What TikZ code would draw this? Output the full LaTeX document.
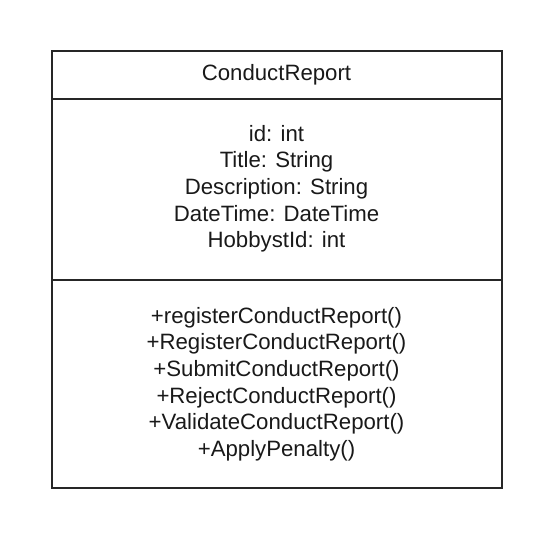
\documentclass[tikz,border=0pt]{standalone}
\usepackage{fontspec}
\setmainfont{Liberation Sans}
\tikzset{
  umlline/.style={draw=black!85, line width=2pt},
  umltext/.style={anchor=base, inner sep=0pt, text=black!90,
    font=\fontsize{22.2}{26.7}\selectfont},
}
\begin{document}
\begin{tikzpicture}[x=1pt,y=1pt]
\useasboundingbox (0,0) rectangle (553,-538);
\coordinate (tl) at (51.5,-50.5);
\coordinate (br) at (501.5,-488);
\coordinate (d1l) at (51.5,-98.5);
\coordinate (d1r) at (501.5,-98.5);
\coordinate (d2l) at (51.5,-280);
\coordinate (d2r) at (501.5,-280);
\draw[umlline] (tl) rectangle (br);
\draw[umlline] (d1l) -- (d1r);
\draw[umlline] (d2l) -- (d2r);
\node[umltext] (name) at (276.5,-80) {ConductReport};
\node[umltext] (a1) at (276.5,-141) {id: int};
\node[umltext] (a2) at (276.5,-167.7) {Title: String};
\node[umltext] (a3) at (276.5,-194.4) {Description: String};
\node[umltext] (a4) at (276.5,-221.1) {DateTime: DateTime};
\node[umltext] (a5) at (276.5,-247.8) {HobbystId: int};
\node[umltext] (o1) at (276.5,-323) {+registerConductReport()};
\node[umltext] (o2) at (276.5,-349.7) {+RegisterConductReport()};
\node[umltext] (o3) at (276.5,-376.4) {+SubmitConductReport()};
\node[umltext] (o4) at (276.5,-403.1) {+RejectConductReport()};
\node[umltext] (o5) at (276.5,-429.8) {+ValidateConductReport()};
\node[umltext] (o6) at (276.5,-456.5) {+ApplyPenalty()};
\end{tikzpicture}
\end{document}
